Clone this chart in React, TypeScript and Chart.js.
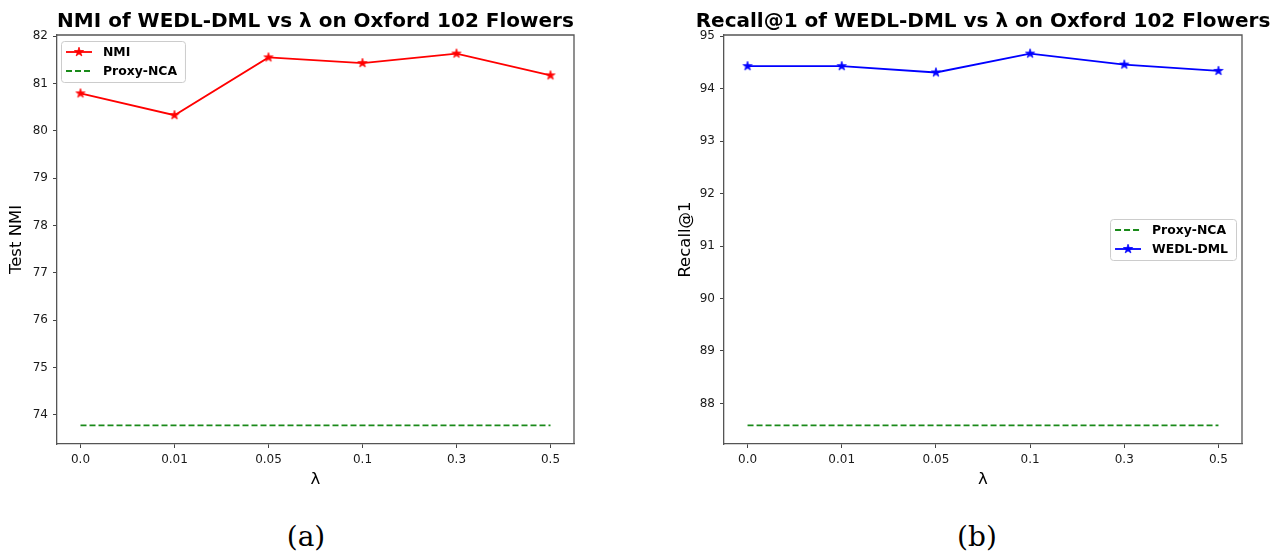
import React, { useEffect, useRef } from "react";
import { Chart, registerables } from "chart.js";

Chart.register(...registerables);
Chart.defaults.font.family = "'DejaVu Sans', sans-serif";

// ---------- data ----------
const lambdaLabels = ["0.0", "0.01", "0.05", "0.1", "0.3", "0.5"];
const nmiValues = [80.79, 80.33, 81.55, 81.43, 81.63, 81.17];
const proxyNcaNmi = [73.78, 73.78, 73.78, 73.78, 73.78, 73.78];
const recallValues = [94.43, 94.43, 94.31, 94.67, 94.46, 94.34];
const proxyNcaRecall = [87.58, 87.58, 87.58, 87.58, 87.58, 87.58];

const titleA = "NMI of WEDL-DML vs λ on Oxford 102 Flowers";
const titleB = "Recall@1 of WEDL-DML vs λ on Oxford 102 Flowers";

// ---------- helpers ----------
function makeStar(color: string): HTMLCanvasElement {
  const size = 12;
  const c = document.createElement("canvas");
  c.width = size;
  c.height = size;
  const ctx = c.getContext("2d")!;
  const cx = size / 2, cy = size / 2, R = 4.8, r = R * 0.381;
  ctx.beginPath();
  for (let i = 0; i < 10; i++) {
    const a = -Math.PI / 2 + (i * Math.PI) / 5;
    const rad = i % 2 === 0 ? R : r;
    ctx.lineTo(cx + rad * Math.cos(a), cy + rad * Math.sin(a));
  }
  ctx.closePath();
  ctx.fillStyle = color;
  ctx.fill();
  ctx.strokeStyle = color;
  ctx.lineWidth = 0.8;
  ctx.stroke();
  return c;
}

function toPoints(values: number[]) {
  return values.map((v, i) => ({ x: i, y: v }));
}

const decorPlugin = {
  id: "decor",
  afterDraw(chart: any, _args: any, opts: any) {
    const { ctx, chartArea: a } = chart;
    ctx.save();
    // top/right spines
    ctx.strokeStyle = "#555";
    ctx.lineWidth = 1.3;
    ctx.setLineDash([]);
    ctx.beginPath();
    ctx.moveTo(a.left, a.top);
    ctx.lineTo(a.right, a.top);
    ctx.lineTo(a.right, a.bottom);
    ctx.stroke();

    // title
    ctx.font = "bold 20px 'DejaVu Sans'";
    ctx.fillStyle = "#000";
    ctx.textAlign = "center";
    ctx.textBaseline = "alphabetic";
    ctx.fillText(opts.title, (a.left + a.right) / 2, a.top - 8.5);

    // legend
    const items = opts.items as any[];
    ctx.font = "bold 12.4px 'DejaVu Sans'";
    const tw = Math.max(...items.map((it) => ctx.measureText(it.text).width));
    const w = 42 + tw + 8;
    const h = 41;
    let x0: number, y0: number;
    if (opts.loc === "upper left") {
      x0 = a.left + 4;
      y0 = a.top + 6;
    } else {
      x0 = a.right - 6 - w;
      y0 = (a.top + a.bottom) / 2 - h / 2;
    }
    ctx.beginPath();
    ctx.roundRect(x0 + 0.5, y0 + 0.5, w, h, 3);
    ctx.fillStyle = "rgba(255,255,255,0.85)";
    ctx.fill();
    ctx.strokeStyle = "#cccccc";
    ctx.lineWidth = 1;
    ctx.stroke();
    items.forEach((it, i) => {
      const y = y0 + 11 + i * 19;
      ctx.strokeStyle = it.color;
      ctx.lineWidth = 1.8;
      ctx.setLineDash(it.dash || []);
      ctx.beginPath();
      ctx.moveTo(x0 + 5, y);
      ctx.lineTo(x0 + 31, y);
      ctx.stroke();
      ctx.setLineDash([]);
      if (it.star) {
        ctx.drawImage(it.star, x0 + 18 - it.star.width / 2, y - it.star.height / 2);
      }
      ctx.fillStyle = "#000";
      ctx.textAlign = "left";
      ctx.textBaseline = "middle";
      ctx.fillText(it.text, x0 + 42, y + 0.5);
    });
    ctx.restore();
  },
};

function buildConfig(p: {
  title: string;
  yTitle: string;
  yTitlePad: number;
  yAxisWidth: number;
  padRight: number;
  main: number[];
  mainLabel: string;
  mainColor: string;
  proxy: number[];
  legendLoc: string;
  proxyFirst: boolean;
}): any {
  const all = [...p.main, ...p.proxy];
  const dMin = Math.min(...all);
  const dMax = Math.max(...all);
  const marg = (dMax - dMin) * 0.05;
  const n = lambdaLabels.length;
  const xMarg = (n - 1) * 0.05;
  const star = makeStar(p.mainColor);
  const mainItem = { text: p.mainLabel, color: p.mainColor, star };
  const proxyItem = { text: "Proxy-NCA", color: "#1a8a1a", dash: [6, 3] };
  const items = p.proxyFirst ? [proxyItem, mainItem] : [mainItem, proxyItem];
  const tickFont = { family: "'DejaVu Sans'", size: 12 };
  return {
    type: "line",
    data: {
      datasets: [
        {
          label: "Proxy-NCA",
          data: toPoints(p.proxy),
          borderColor: "#1a8a1a",
          backgroundColor: "#1a8a1a",
          borderWidth: 1.7,
          borderDash: [6, 3],
          pointRadius: 0,
          fill: false,
          tension: 0,
        },
        {
          label: p.mainLabel,
          data: toPoints(p.main),
          borderColor: p.mainColor,
          backgroundColor: p.mainColor,
          borderWidth: 1.8,
          pointStyle: star,
          pointRadius: 5,
          fill: false,
          tension: 0,
        },
      ],
    },
    options: {
      responsive: false,
      maintainAspectRatio: false,
      animation: false,
      events: [],
      layout: { padding: { left: 0, right: p.padRight, top: 35, bottom: 0 } },
      plugins: {
        legend: { display: false },
        tooltip: { enabled: false },
        decor: { title: p.title, items, loc: p.legendLoc },
      },
      scales: {
        x: {
          type: "linear",
          min: -xMarg,
          max: n - 1 + xMarg,
          afterBuildTicks: (s: any) => {
            s.ticks = lambdaLabels.map((_, i) => ({ value: i }));
          },
          afterFit: (s: any) => {
            s.height = 56;
          },
          ticks: {
            callback: (v: number) => lambdaLabels[v],
            font: tickFont,
            color: "#1a1a1a",
            padding: 5,
            maxRotation: 0,
            autoSkip: false,
          },
          grid: {
            display: true,
            drawOnChartArea: false,
            drawTicks: true,
            tickLength: 4,
            color: "#444",
            lineWidth: 1,
          },
          border: { display: true, color: "#555", width: 1.3 },
          title: {
            display: true,
            text: "λ",
            color: "#000",
            font: { family: "'DejaVu Sans'", size: 16.5 },
            padding: { top: 0, bottom: 10 },
          },
        },
        y: {
          type: "linear",
          min: dMin - marg,
          max: dMax + marg,
          afterBuildTicks: (s: any) => {
            const t: any[] = [];
            for (let v = Math.ceil(s.min); v <= Math.floor(s.max); v++) t.push({ value: v });
            s.ticks = t;
          },
          afterFit: (s: any) => {
            s.width = p.yAxisWidth;
          },
          ticks: {
            callback: (v: number) => String(v),
            font: tickFont,
            color: "#1a1a1a",
            padding: 5,
          },
          grid: {
            display: true,
            drawOnChartArea: false,
            drawTicks: true,
            tickLength: 4,
            color: "#444",
            lineWidth: 1,
          },
          border: { display: true, color: "#555", width: 1.3 },
          title: {
            display: true,
            text: p.yTitle,
            color: "#000",
            font: { family: "'DejaVu Sans'", size: 16.5 },
            padding: { top: p.yTitlePad, bottom: 0 },
          },
        },
      },
    },
    plugins: [decorPlugin],
  };
}

function Panel(props: { left: number; width: number; height: number; make: () => any }) {
  const ref = useRef<HTMLCanvasElement>(null);
  useEffect(() => {
    const chart = new Chart(ref.current!, props.make());
    return () => chart.destroy();
  }, []);
  return (
    <canvas
      ref={ref}
      width={props.width}
      height={props.height}
      style={{ position: "absolute", left: props.left, top: 0, width: props.width, height: props.height }}
    />
  );
}

const captionStyle: React.CSSProperties = {
  position: "absolute",
  top: 519,
  width: 100,
  textAlign: "center",
  fontFamily: "'DejaVu Serif', serif",
  fontSize: 28,
  lineHeight: "36px",
  color: "#000",
};

export default function App() {
  return (
    <div
      style={{
        position: "absolute",
        left: 0,
        top: 0,
        width: 1273,
        height: 552,
        background: "#fff",
        overflow: "hidden",
      }}
    >
      <Panel
        left={0}
        width={640}
        height={500}
        make={() =>
          buildConfig({
            title: titleA,
            yTitle: "Test NMI",
            yTitlePad: 7,
            yAxisWidth: 57,
            padRight: 66,
            main: nmiValues,
            mainLabel: "NMI",
            mainColor: "#ff0000",
            proxy: proxyNcaNmi,
            legendLoc: "upper left",
            proxyFirst: false,
          })
        }
      />
      <Panel
        left={640}
        width={633}
        height={500}
        make={() =>
          buildConfig({
            title: titleB,
            yTitle: "Recall@1",
            yTitlePad: 36,
            yAxisWidth: 84,
            padRight: 31,
            main: recallValues,
            mainLabel: "WEDL-DML",
            mainColor: "#0000ff",
            proxy: proxyNcaRecall,
            legendLoc: "center right",
            proxyFirst: true,
          })
        }
      />
      <div style={{ ...captionStyle, left: 256 }}>(a)</div>
      <div style={{ ...captionStyle, left: 927 }}>(b)</div>
    </div>
  );
}
